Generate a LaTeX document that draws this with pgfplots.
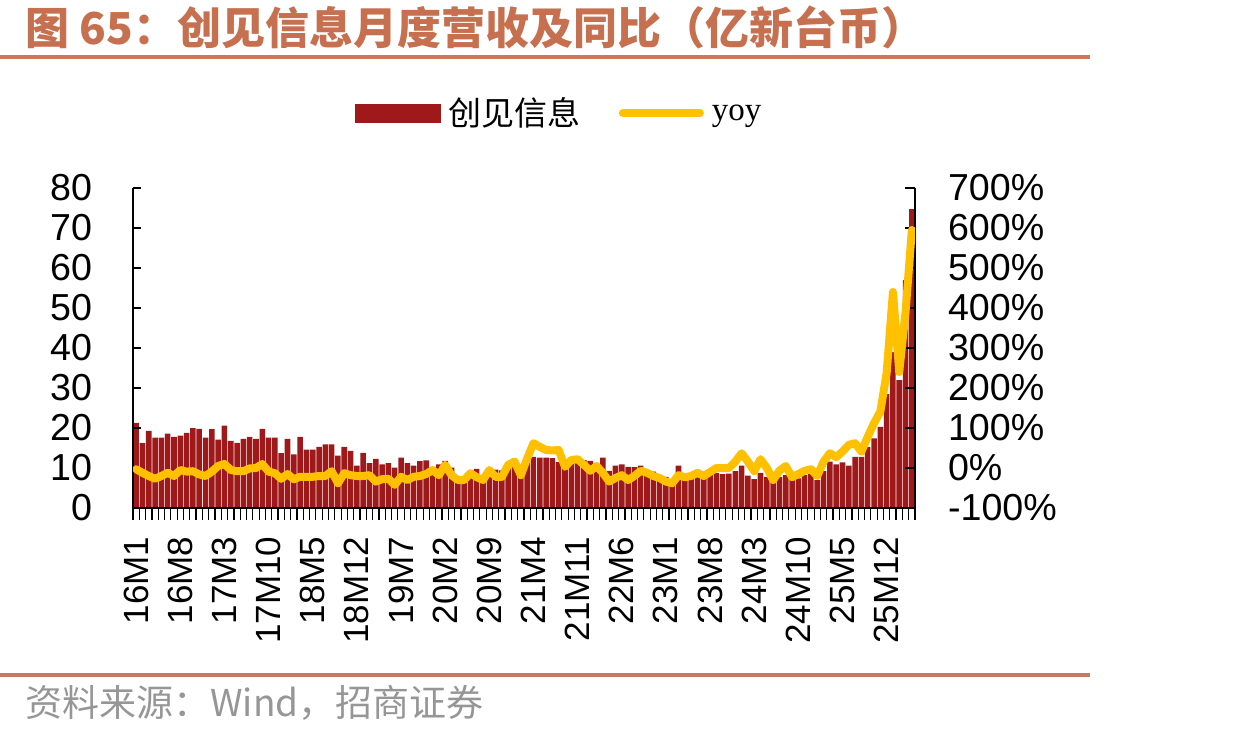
\documentclass[border=0pt]{standalone}
\usepackage{pgfplots}
\pgfplotsset{compat=1.18}
\usepackage{pgfplotstable}
\usepackage{fontspec}
\setmainfont{Liberation Sans}
\newfontfamily\cjk{Noto Sans CJK SC}
\newfontfamily\serif{Liberation Serif}
\definecolor{barred}{RGB}{160,25,26}
\definecolor{yoyc}{RGB}{255,192,0}
\definecolor{titlec}{RGB}{198,112,80}
\definecolor{rulec}{RGB}{204,120,90}
\definecolor{srcgray}{RGB}{150,150,150}

\pgfplotstableread{
i rev yoy
0 21.3 -3
1 16.2 -12
2 19.3 -20
3 17.6 -27
4 17.6 -20
5 18.6 -12
6 17.8 -20
7 18.1 -5
8 18.8 -9
9 20.0 -8
10 19.8 -16
11 17.6 -20
12 19.7 -9
13 17.1 5
14 20.6 10
15 16.8 -5
16 16.3 -8
17 17.3 -8
18 17.8 -1
19 17.3 0
20 19.8 10
21 17.6 -9
22 17.6 -13
23 13.7 -27
24 17.3 -15
25 13.4 -28
26 17.8 -22
27 14.6 -22
28 14.6 -22
29 15.3 -20
30 15.9 -20
31 15.9 -8
32 13.1 -38
33 15.3 -13
34 14.3 -18
35 10.6 -20
36 13.8 -20
37 11.2 -18
38 12.3 -34
39 10.9 -28
40 11.2 -27
41 10.1 -42
42 12.6 -22
43 11.2 -30
44 10.6 -22
45 11.7 -20
46 11.9 -15
47 10.1 -5
48 10.9 -18
49 11.8 8
50 10.1 -18
51 7.6 -30
52 7.8 -30
53 8.8 -13
54 9.8 -23
55 7.8 -30
56 9.8 -5
57 9.6 -22
58 9.4 -22
59 11.3 8
60 12.3 16
61 10.1 -18
62 12.3 24
63 12.8 62
64 12.6 53
65 12.6 45
66 12.5 44
67 11.5 45
68 10.1 3
69 11.4 20
70 11.8 22
71 12.0 8
72 11.8 -7
73 10.5 5
74 12.6 -12
75 9.3 -34
76 10.6 -25
77 10.9 -18
78 10.3 -30
79 10.2 -20
80 10.6 -7
81 9.5 -12
82 9.1 -20
83 8.25 -25
84 7.8 -34
85 6.5 -38
86 10.6 -18
87 7.5 -23
88 8.5 -20
89 9.5 -12
90 8.25 -20
91 9.1 -10
92 8.7 0
93 8.5 0
94 8.6 0
95 9.25 16
96 10.6 37
97 8.1 16
98 7.2 -8
99 8.8 22
100 7.8 0
101 6.3 -30
102 7.7 -7
103 8.25 5
104 7.0 -23
105 7.4 -15
106 8.25 -7
107 8.6 -3
108 7.0 -20
109 9.25 16
110 11.6 37
111 10.9 27
112 11.4 41
113 10.6 58
114 12.8 62
115 12.8 41
116 15.3 78
117 17.4 112
118 20.3 141
119 28.5 237
120 39.0 440
121 32.0 240
122 57.0 390
123 74.7 595
}\data

\begin{document}
\begin{tikzpicture}
\path[use as bounding box] (0,0) rectangle (622.5pt,368pt);
\node[anchor=west, text=titlec, inner sep=0pt, font=\cjk\bfseries\fontsize{22}{25}\selectfont] at (12.5pt,354.5pt) {图 65：创见信息月度营收及同比（亿新台币）};
\draw[rulec, line width=1.75pt] (0,339.5pt) -- (545pt,339.5pt);
\draw[rulec, line width=1.75pt] (0,30.5pt) -- (545pt,30.5pt);
\node[anchor=west, text=srcgray, inner sep=0pt, font=\cjk\fontsize{18.5}{22}\selectfont] at (12.5pt,16.5pt) {资料来源：Wind，招商证券};

\begin{axis}[
  at={(66.5pt,114pt)}, anchor=south west, scale only axis,
  width=391pt, height=160pt,
  xmin=-0.5, xmax=123.5, ymin=0, ymax=80,
  axis x line*=bottom, axis y line*=left,
  ytick={0,10,...,80},
  xtick={0,7,...,119},
  xticklabels={16M1,16M8,17M3,17M10,18M5,18M12,19M7,20M2,20M9,21M4,21M11,22M6,23M1,23M8,24M3,24M10,25M5,25M12},
  major x tick style={draw=none},
  minor xtick={-0.5,0.5,...,123.5},
  minor tick length=5.8pt, major tick length=3.8pt,
  tick style={black, line width=0.6pt},
  tick align=inside,
  xticklabel style={rotate=90, anchor=east, font=\fontsize{17.5}{20}\selectfont},
  yticklabel style={font=\fontsize{18.8}{22}\selectfont},
  xticklabel shift=7pt, yticklabel shift=17pt,
  axis line style={black, line width=0.6pt},
  axis on top,
  /pgf/number format/assume math mode=true,
  ybar, bar width=0.88,
]
\addplot[fill=barred, draw=none] table[x=i, y=rev] {\data};
\end{axis}

\begin{axis}[
  at={(66.5pt,114pt)}, anchor=south west, scale only axis,
  width=391pt, height=160pt,
  xmin=-0.5, xmax=123.5, ymin=-100, ymax=700,
  hide x axis, axis y line*=right,
  ytick={-100,0,...,700},
  yticklabels={-100\%,0\%,100\%,200\%,300\%,400\%,500\%,600\%,700\%},
  yticklabel style={anchor=west, font=\fontsize{18.8}{22}\selectfont},
  yticklabel shift=13pt,
  major tick length=5pt, tick align=inside,
  tick style={black, line width=0.6pt},
  axis line style={black, line width=0.6pt},
  legend style={at={(0.284,1.234)}, anchor=west, draw=none, fill=none,
    inner sep=0pt, outer sep=0pt, legend columns=2,
    font=\fontsize{16.5}{20}\selectfont,
    nodes={inner sep=0pt},
    /tikz/every odd column/.append style={column sep=4pt},
    /tikz/every even column/.append style={column sep=19pt}},
  legend cell align=left,
]
\addlegendimage{legend image code/.code={\fill[barred] (0pt,-4.5pt) rectangle (42.5pt,4.5pt);}}
\addlegendentry{\cjk 创见信息}
\addplot[yoyc, line width=4pt, line join=round, line cap=round,
  legend image code/.code={\draw[yoyc, line width=4pt, line cap=round] (2pt,0pt) -- (40.5pt,0pt);}]
  table[x=i, y=yoy] {\data};
\addlegendentry{\serif\raisebox{-1.5pt}{yoy}}
\end{axis}
\end{tikzpicture}
\end{document}
